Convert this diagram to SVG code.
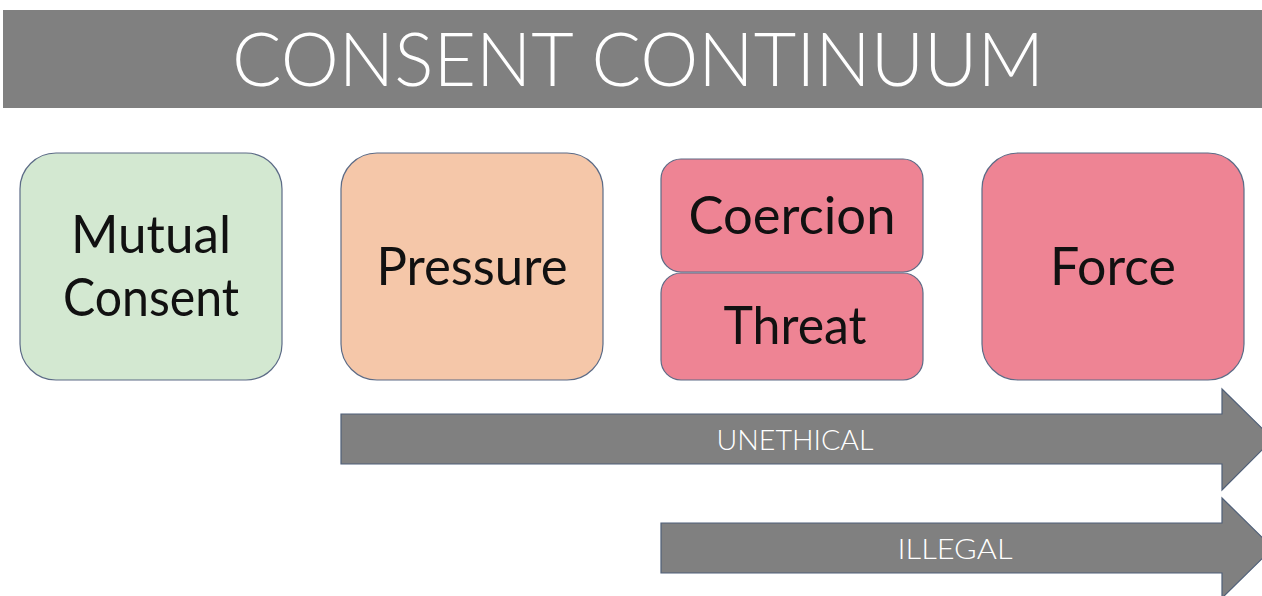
<svg xmlns="http://www.w3.org/2000/svg" width="1262" height="596" viewBox="0 0 1262 596">
<style>
.bar{fill:#808080;}
.box{stroke:#5c6b86;stroke-width:1.2;}
.green{fill:#d3e8d1;}
.peach{fill:#f5c7a9;}
.pink{fill:#ee8494;}
.lbl{font-family:Lato,"Open Sans","DejaVu Sans",sans-serif;font-size:53px;fill:#111;text-anchor:middle;dominant-baseline:central;}
.title{font-family:Lato,"Open Sans","DejaVu Sans",sans-serif;font-weight:300;font-size:74px;fill:#fff;text-anchor:middle;dominant-baseline:central;}
.arr{fill:#808080;stroke:#4f5f78;stroke-width:1.2;}
.alab{font-family:Lato,"Open Sans","DejaVu Sans",sans-serif;font-weight:300;font-size:28px;fill:#fff;text-anchor:middle;dominant-baseline:central;}
</style>
<rect x="0" y="0" width="1262" height="596" fill="#fff"/>
<g id="title">
<rect class="bar" x="3" y="10" width="1259" height="98"/>
<text class="title" x="638" y="57" textLength="812" lengthAdjust="spacingAndGlyphs">CONSENT CONTINUUM</text>
</g>
<g id="mutual-consent">
<rect class="box green" x="20" y="153" width="262" height="227" rx="36"/>
<text class="lbl" x="151" y="232" textLength="160" lengthAdjust="spacingAndGlyphs">Mutual</text>
<text class="lbl" x="151" y="295" textLength="176" lengthAdjust="spacingAndGlyphs">Consent</text>
</g>
<g id="pressure">
<rect class="box peach" x="341" y="153" width="262" height="227" rx="36"/>
<text class="lbl" x="472" y="264" textLength="191" lengthAdjust="spacingAndGlyphs">Pressure</text>
</g>
<g id="coercion">
<rect class="box pink" x="661" y="159" width="262" height="113" rx="20"/>
<text class="lbl" x="792" y="213" textLength="207" lengthAdjust="spacingAndGlyphs">Coercion</text>
</g>
<g id="threat">
<rect class="box pink" x="661" y="273" width="262" height="107" rx="20"/>
<text class="lbl" x="795" y="323" textLength="143" lengthAdjust="spacingAndGlyphs">Threat</text>
</g>
<g id="force">
<rect class="box pink" x="982" y="153" width="262" height="227" rx="36"/>
<text class="lbl" x="1113" y="264" textLength="126" lengthAdjust="spacingAndGlyphs">Force</text>
</g>
<g id="connectors">
<g id="unethical">
<path class="arr" d="M341,414 H1222 V389 L1273,439 L1222,490 V464 H341 Z"/>
<text class="alab" x="795" y="439" textLength="157" lengthAdjust="spacingAndGlyphs">UNETHICAL</text>
</g>
<g id="illegal">
<path class="arr" d="M661,523 H1222 V498 L1273,548 L1222,598 V573 H661 Z"/>
<text class="alab" x="955" y="548" textLength="115" lengthAdjust="spacingAndGlyphs">ILLEGAL</text>
</g>
</g>
</svg>
